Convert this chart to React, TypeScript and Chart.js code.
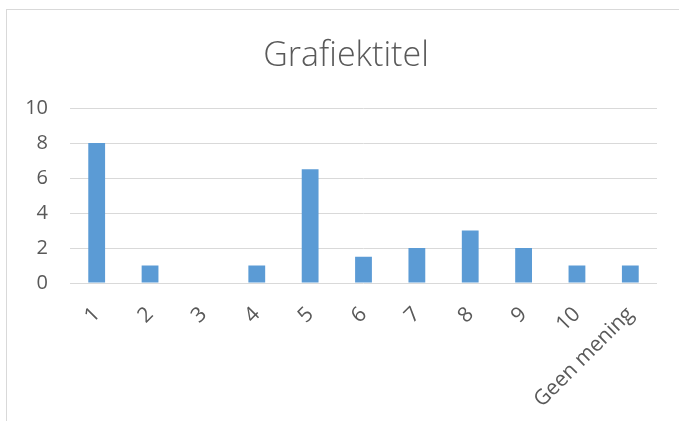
import React, { useEffect, useRef } from "react";
import { Chart, registerables } from "chart.js";

Chart.register(...registerables);

const categories: string[] = ["1", "2", "3", "4", "5", "6", "7", "8", "9", "10", "Geen mening"];
const values: number[] = [8, 1, 0, 1, 6.5, 1.5, 2, 3, 2, 1, 1];
const titleText = "Grafiektitel";
const yMin = 0;
const yMax = 10;
const yStep = 2;

const FONT = "'Open Sans', 'DejaVu Sans', sans-serif";
const TEXT = "#595959";
const GRID = "#d9d9d9";
const BAR = "#5b9bd5";

export default function App() {
  const ref = useRef<HTMLCanvasElement | null>(null);

  useEffect(() => {
    document.body.style.margin = "0";
    const canvas = ref.current;
    if (!canvas) return;
    const chart = new Chart(canvas, {
      type: "bar",
      data: {
        labels: categories,
        datasets: [
          {
            data: values,
            backgroundColor: BAR,
            borderWidth: 0,
            categoryPercentage: 1,
            barPercentage: 0.315,
          },
        ],
      },
      options: {
        responsive: false,
        animation: false,
        layout: { padding: { left: 0, right: 22, top: 108, bottom: 0 } },
        plugins: {
          legend: { display: false },
          tooltip: { enabled: false },
          title: { display: false },
        },
        scales: {
          x: {
            grid: { display: false },
            border: { display: false },
            ticks: {
              color: TEXT,
              font: { family: FONT, size: 21 },
              maxRotation: 45,
              minRotation: 45,
              autoSkip: false,
              padding: 11,
            },
            afterFit: (scale: any) => {
              scale.height = 138;
            },
          },
          y: {
            min: yMin,
            max: yMax,
            grid: { color: GRID, lineWidth: 1, drawTicks: false },
            border: { display: false },
            ticks: {
              stepSize: yStep,
              color: TEXT,
              font: { family: FONT, size: 20 },
              padding: 22,
            },
            afterFit: (scale: any) => {
              scale.width = 70;
            },
          },
        },
      },
    });
    return () => chart.destroy();
  }, []);

  return (
    <div style={{ position: "absolute", left: 0, top: 0, width: 679, height: 421, background: "#fff", overflow: "hidden" }}>
      <div
        style={{
          position: "absolute",
          left: 6,
          top: 9,
          right: -2,
          bottom: -2,
          borderTop: `1px solid ${GRID}`,
          borderLeft: `1px solid ${GRID}`,
        }}
      />
      <canvas ref={ref} width={679} height={421} style={{ position: "absolute", left: 0, top: 0 }} />
      <div
        style={{
          position: "absolute",
          left: 0,
          top: 33,
          width: 692,
          textAlign: "center",
          fontFamily: FONT,
          fontWeight: 300,
          fontSize: 34,
          lineHeight: "40px",
          color: TEXT,
          whiteSpace: "nowrap",
        }}
      >
        {titleText}
      </div>
    </div>
  );
}
